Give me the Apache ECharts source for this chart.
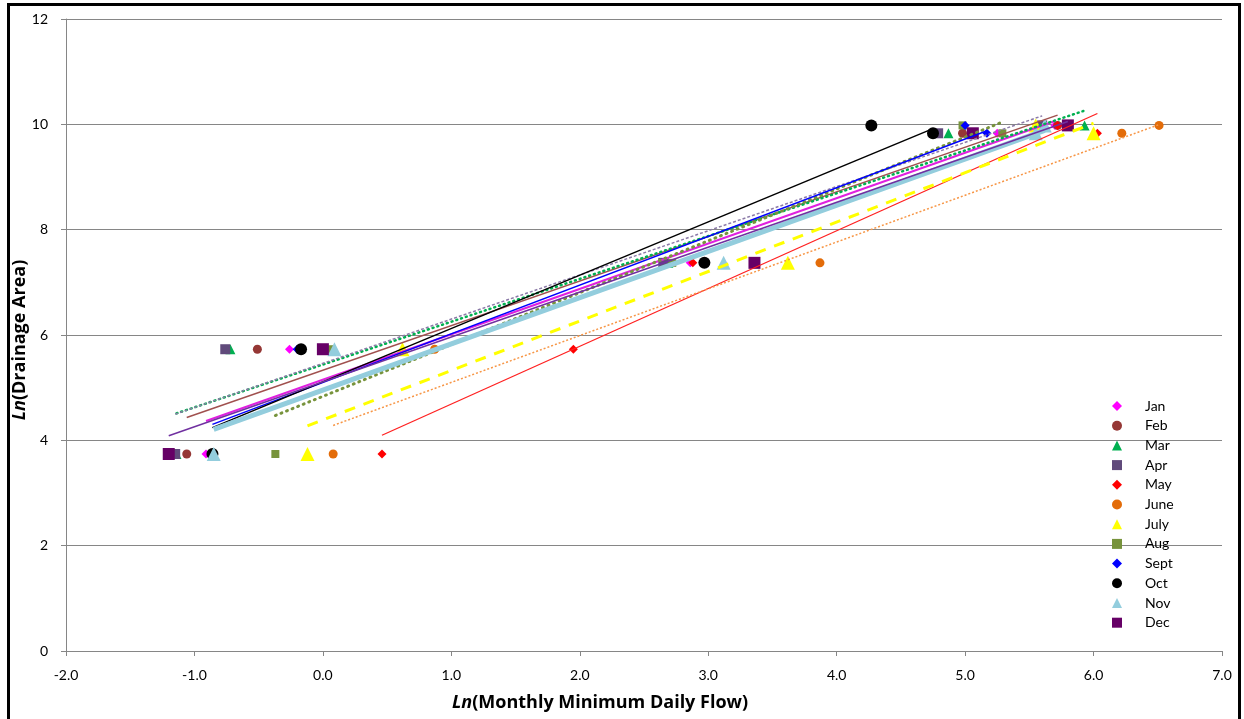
<!DOCTYPE html>
<html>
<head>
<meta charset="utf-8">
<script src="https://cdn.jsdelivr.net/npm/echarts@6/dist/echarts.min.js"></script>
<style>
html,body{margin:0;padding:0;background:#fff;}
#chart{width:1244px;height:719px;}
</style>
</head>
<body>
<div id="chart"></div>
<script>
// Ln(Drainage Area) of the five stations
const drainage = [3.74, 5.73, 7.37, 9.98, 9.83];
const months = ['Jan','Feb','Mar','Apr','May','June','July','Aug','Sept','Oct','Nov','Dec'];
// Ln(Monthly Minimum Daily Flow) per month, one value per station (same order as drainage)
const janFlow  = [-0.91, -0.26, 2.86, 5.70, 5.25];
const febFlow  = [-1.06, -0.51, 2.67, 5.72, 4.98];
const marFlow  = [-1.14, -0.72, 2.69, 5.93, 4.87];
const aprFlow  = [-1.15, -0.76, 2.65, 5.60, 4.79];
const mayFlow  = [0.46, 1.95, 2.88, 5.72, 6.03];
const junFlow  = [0.08, 0.87, 3.87, 6.51, 6.22];
const julFlow  = [-0.12, 0.62, 3.62, 5.55, 6.00];
const augFlow  = [-0.37, 0.05, 2.72, 4.98, 5.29];
const sepFlow  = [-0.86, -0.20, 2.96, 5.00, 5.17];
const octFlow  = [-0.86, -0.17, 2.97, 4.27, 4.75];
const novFlow  = [-0.85, 0.09, 3.12, 5.62, 5.55];
const decFlow  = [-1.20, 0.00, 3.36, 5.80, 5.06];
const xTicks = ['-2.0','-1.0','0.0','1.0','2.0','3.0','4.0','5.0','6.0','7.0'];
const yTicks = ['0','2','4','6','8','10','12'];

const flows = [janFlow, febFlow, marFlow, aprFlow, mayFlow, junFlow, julFlow, augFlow, sepFlow, octFlow, novFlow, decFlow];

const markerStyle = [
  {symbol:'diamond', size:9, color:'#FF00FF'},
  {symbol:'circle', size:9, color:'#953735'},
  {symbol:'triangle', size:10, color:'#00B050'},
  {symbol:'rect', size:10, color:'#604A7B'},
  {symbol:'diamond', size:9, color:'#FF0000'},
  {symbol:'circle', size:9, color:'#E36C09'},
  {symbol:'triangle', size:14, color:'#FFFF00'},
  {symbol:'rect', size:8, color:'#77933C'},
  {symbol:'diamond', size:9, color:'#0000FF'},
  {symbol:'circle', size:12, color:'#000000'},
  {symbol:'triangle', size:14, color:'#93CDDD'},
  {symbol:'rect', size:12, color:'#660066'}
];
const trendStyle = [
  {color:'#E020E0', width:2, type:'solid'},
  {color:'#A0504E', width:1.5, type:'solid'},
  {color:'#00B050', width:2.5, type:[1,4], cap:'round'},
  {color:'#8C7BA8', width:1.5, type:[3,2]},
  {color:'#FF2020', width:1.3, type:'solid'},
  {color:'#F79646', width:1.5, type:[2,2]},
  {color:'#FFFF00', width:3, type:[11,9]},
  {color:'#77933C', width:3, type:[1,5], cap:'round'},
  {color:'#0000FF', width:1.5, type:'solid'},
  {color:'#000000', width:1.5, type:'solid'},
  {color:'#93CDDD', width:5, type:'solid'},
  {color:'#7030A0', width:1.5, type:'solid'}
];

function fit(xs, ys){
  const n = xs.length;
  let mx=0,my=0; for(let i=0;i<n;i++){mx+=xs[i];my+=ys[i];} mx/=n; my/=n;
  let sxy=0,sxx=0; for(let i=0;i<n;i++){sxy+=(xs[i]-mx)*(ys[i]-my); sxx+=(xs[i]-mx)*(xs[i]-mx);}
  const b = sxy/sxx, a = my-b*mx;
  const x0 = Math.min(...xs), x1 = Math.max(...xs);
  return [[x0, a+b*x0],[x1, a+b*x1]];
}

const font = 'Lato, "Open Sans", sans-serif';
const titleFont = '"Open Sans", Lato, sans-serif';
const series = [];
months.forEach((m,i)=>{
  const ms = markerStyle[i];
  series.push({
    name:m, type:'scatter', symbol:ms.symbol, symbolSize:ms.size,
    itemStyle:{color:ms.color, opacity:1}, z:2,
    data: flows[i].map((x,k)=>[x, drainage[k]])
  });
});
months.forEach((m,i)=>{
  const ts = trendStyle[i];
  series.push({
    name:m+' trend', type:'line', showSymbol:false, symbol:'none', silent:true, z:3,
    lineStyle:{color:ts.color, width:ts.width, type:ts.type, cap:ts.cap||'butt'},
    data: fit(flows[i], drainage)
  });
});

const chart = echarts.init(document.getElementById('chart'), null, {renderer:'canvas'});
chart.setOption({
  animation:false,
  backgroundColor:'#fff',
  grid:{left:66, right:22, top:19, bottom:68},
  xAxis:{
    type:'value', min:-2, max:7, interval:1,
    axisLine:{onZero:false, lineStyle:{color:'#868686', width:1}},
    axisTick:{show:true, length:5, lineStyle:{color:'#868686'}},
    splitLine:{show:false},
    axisLabel:{color:'#000', fontFamily:font, fontSize:14, margin:17,
      formatter:(v)=>xTicks[Math.round(v+2)]}
  },
  yAxis:{
    type:'value', min:0, max:12, interval:2,
    axisLine:{show:true, onZero:false, lineStyle:{color:'#868686', width:1}},
    axisTick:{show:true, length:5, lineStyle:{color:'#868686'}},
    splitLine:{show:true, lineStyle:{color:'#868686', width:1}},
    axisLabel:{color:'#000', fontFamily:font, fontSize:14, margin:18,
      formatter:(v)=>yTicks[Math.round(v/2)]}
  },
  legend:{
    data:months, orient:'vertical', left:1107, top:394,
    itemWidth:10, itemHeight:10, itemGap:5.7,
    textStyle:{color:'#000', fontFamily:font, fontSize:14, padding:[0,0,0,18]}
  },
  graphic:[
    {type:'rect', shape:{x:8.5, y:4.5, width:1231, height:730}, style:{fill:'none', stroke:'#000', lineWidth:3}, silent:true},
    {type:'text', left:452, top:694, style:{
      text:'{i|Ln}{b|(Monthly Minimum Daily Flow)}',
      rich:{i:{fontFamily:titleFont, fontSize:18, fontWeight:'bold', fontStyle:'italic', fill:'#000'},
            b:{fontFamily:titleFont, fontSize:18, fontWeight:'bold', fill:'#000'}}
    }},
    {type:'text', x:11, y:340, rotation:Math.PI/2, style:{
      text:'{i|Ln}{b|(Drainage Area)}', align:'center', verticalAlign:'top',
      rich:{i:{fontFamily:titleFont, fontSize:18, fontWeight:'bold', fontStyle:'italic', fill:'#000'},
            b:{fontFamily:titleFont, fontSize:18, fontWeight:'bold', fill:'#000'}}
    }}
  ],
  series:series
});
</script>
</body>
</html>
